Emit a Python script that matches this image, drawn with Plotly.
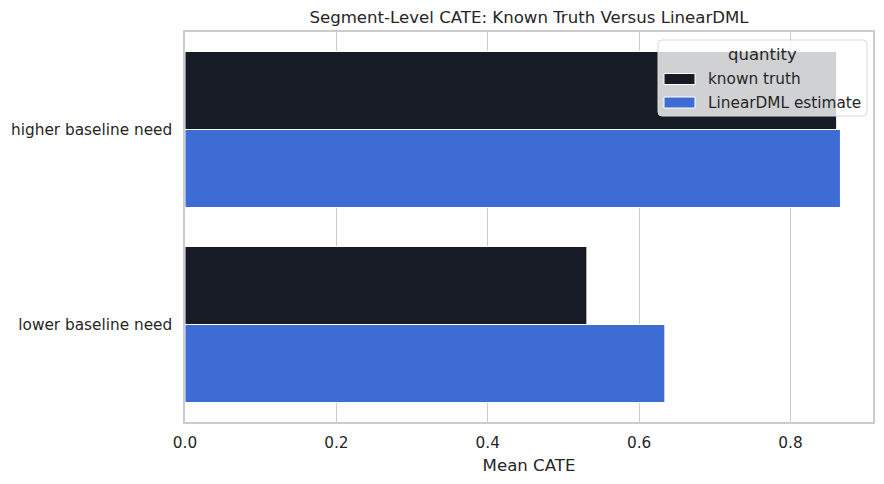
import plotly.graph_objects as go

segments = ["higher baseline need", "lower baseline need"]
known_truth = [0.861, 0.531]
lineardml_estimate = [0.866, 0.634]
x_ticks = [0.0, 0.2, 0.4, 0.6, 0.8]
x_tick_labels = ["0.0", "0.2", "0.4", "0.6", "0.8"]
series_names = ["known truth", "LinearDML estimate"]
series_colors = ["#171b26", "#3d6cd4"]

FONT = "DejaVu Sans"
TXT = "#262626"
OFF = 8  # page body margin
W, H = 884 - OFF, 484 - OFF
L, R, T, B = 185 - OFF, 11, 32 - OFF, 62
PW, PH = W - L - R, H - T - B


def px_x(px):
    return (px - OFF - L) / PW


def px_y(py):
    return (H - B - (py - OFF)) / PH


fig = go.Figure()
for name, vals, col in zip(series_names, [known_truth, lineardml_estimate], series_colors):
    fig.add_trace(go.Bar(
        y=segments, x=vals, orientation="h", name=name, showlegend=False,
        marker=dict(color=col, line=dict(color="white", width=1)),
    ))

# custom legend (matplotlib style) with rounded frame
shapes = []
annotations = []
lx0, lx1, ly0, ly1, rad = 658, 867, 40, 116, 4
pts = [
    (lx0 + rad, ly0), (lx1 - rad, ly0), (lx1, ly0), (lx1, ly0 + rad),
    (lx1, ly1 - rad), (lx1, ly1), (lx1 - rad, ly1), (lx0 + rad, ly1),
    (lx0, ly1), (lx0, ly1 - rad), (lx0, ly0 + rad), (lx0, ly0), (lx0 + rad, ly0),
]
P = [(px_x(a), px_y(b)) for a, b in pts]
path = (f"M {P[0][0]},{P[0][1]} L {P[1][0]},{P[1][1]} Q {P[2][0]},{P[2][1]} {P[3][0]},{P[3][1]} "
        f"L {P[4][0]},{P[4][1]} Q {P[5][0]},{P[5][1]} {P[6][0]},{P[6][1]} "
        f"L {P[7][0]},{P[7][1]} Q {P[8][0]},{P[8][1]} {P[9][0]},{P[9][1]} "
        f"L {P[10][0]},{P[10][1]} Q {P[11][0]},{P[11][1]} {P[12][0]},{P[12][1]} Z")
shapes.append(dict(type="path", xref="paper", yref="paper", path=path,
                   fillcolor="rgba(255,255,255,0.8)", line=dict(color="#d9d9d9", width=1), layer="above"))
annotations.append(dict(text="quantity", xref="paper", yref="paper", x=px_x(762), y=px_y(54),
                        xanchor="center", yanchor="middle", showarrow=False,
                        font=dict(size=16.5, family=FONT, color=TXT)))
for i, (name, col) in enumerate(zip(series_names, series_colors)):
    cy = 79 + i * 23.5
    shapes.append(dict(type="rect", xref="paper", yref="paper", x0=px_x(664), x1=px_x(695),
                       y0=px_y(cy + 5.5), y1=px_y(cy - 5.5), fillcolor=col,
                       line=dict(color="white", width=1), layer="above"))
    annotations.append(dict(text=name, xref="paper", yref="paper", x=px_x(706), y=px_y(cy),
                            xanchor="left", yanchor="middle", showarrow=False,
                            font=dict(size=15.3, family=FONT, color=TXT)))

fig.update_layout(
    width=W, height=H,
    margin=dict(l=L, r=R, t=T, b=B),
    paper_bgcolor="white", plot_bgcolor="white",
    font=dict(family=FONT, size=15.3, color=TXT),
    barmode="group", bargap=0.2, bargroupgap=0,
    showlegend=False,
    title=dict(text="Segment-Level CATE: Known Truth Versus LinearDML",
               x=0.5, xanchor="center", xref="paper", y=1 - (17 - OFF) / H, yanchor="middle",
               font=dict(size=16.6, family=FONT, color=TXT)),
    xaxis=dict(range=[0, 0.909], tickvals=x_ticks, ticktext=x_tick_labels, automargin=False,
               showgrid=True, gridcolor="#cccccc", gridwidth=1.2,
               showline=True, linecolor="#cccccc", linewidth=1.5, mirror=True,
               zeroline=False, ticks="outside", ticklen=6, tickcolor="rgba(0,0,0,0)",
               tickfont=dict(size=15.3, family=FONT, color=TXT),
               title=dict(text="Mean CATE", font=dict(size=16.6, family=FONT, color=TXT), standoff=8)),
    yaxis=dict(autorange="reversed", showgrid=False, automargin=False,
               showline=True, linecolor="#cccccc", linewidth=1.5, mirror=True,
               ticks="outside", ticklen=8, tickcolor="rgba(0,0,0,0)",
               tickfont=dict(size=15.3, family=FONT, color=TXT)),
    shapes=shapes,
    annotations=annotations,
)

fig.write_html("out.html")
